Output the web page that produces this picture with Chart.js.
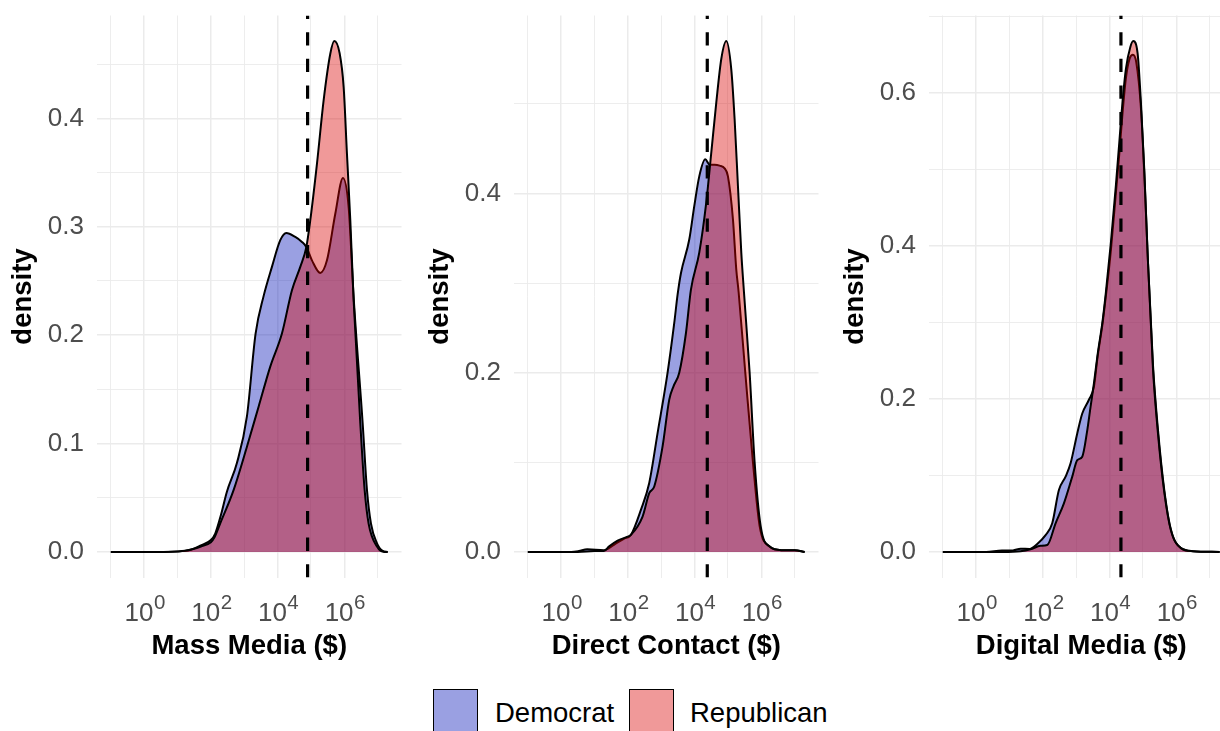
<!DOCTYPE html>
<html>
<head>
<meta charset="utf-8">
<script src="https://cdn.jsdelivr.net/npm/chart.js@4.4.1/dist/chart.umd.min.js"></script>
<style>
  html, body { margin: 0; padding: 0; background: #ffffff; }
  body { width: 1220px; height: 731px; overflow: hidden; position: relative;
         font-family: "Liberation Sans", Arial, sans-serif; }
  .panel { position: absolute; top: 0; width: 410px; height: 670px; }
  .legend { position: absolute; left: 0; top: 689px; width: 1220px; height: 60px; }
  .key { position: absolute; top: 0; width: 43px; height: 44px; border: 1.6px solid #000; }
  .lbl { position: absolute; top: 4px; font-size: 27.5px; line-height: 40px; color: #000; }
</style>
</head>
<body>
<div class="panel" style="left:0px"><canvas id="p1" width="410" height="670"></canvas></div>
<div class="panel" style="left:417px"><canvas id="p2" width="410" height="670"></canvas></div>
<div class="panel" style="left:832px"><canvas id="p3" width="410" height="670"></canvas></div>
<div class="legend">
  <div class="key" style="left:433px; background:rgba(2,18,183,0.4)"></div>
  <div class="lbl" style="left:495px">Democrat</div>
  <div class="key" style="left:629px; background:rgba(218,0,0,0.4)"></div>
  <div class="lbl" style="left:690px">Republican</div>
</div>
<script>
// Spending is on a log10 axis: each x value below is log10(dollars).

// Mass media spending densities
const massDemLog     = [-1.0, 0.0, 1.0, 1.4, 1.7, 2.0, 2.13, 2.3, 2.48, 2.78, 3.08, 3.34, 3.58, 3.83, 4.08, 4.26, 4.53, 4.73, 4.86, 5.03, 5.28, 5.48, 5.73, 5.96, 6.13, 6.28, 6.55, 6.68, 6.8, 6.98, 7.15, 7.3];
const massDemDensity = [0, 0, 0.0005, 0.002, 0.006, 0.011, 0.017, 0.034, 0.0556, 0.082, 0.125, 0.2015, 0.236, 0.263, 0.2876, 0.2943, 0.2906, 0.286, 0.2814, 0.269, 0.2574, 0.269, 0.312, 0.345, 0.318, 0.235, 0.119, 0.057, 0.026, 0.008, 0.001, 0];
const massRepLog     = [-1.0, 0.5, 1.2, 1.5, 1.7, 2.0, 2.1, 2.28, 2.68, 3.08, 3.43, 3.78, 4.13, 4.43, 4.68, 4.86, 4.98, 5.18, 5.38, 5.58, 5.70, 5.86, 5.98, 6.08, 6.18, 6.28, 6.48, 6.61, 6.73, 6.98, 7.2, 7.3];
const massRepDensity = [0, 0, 0.001, 0.003, 0.005, 0.009, 0.013, 0.0264, 0.057, 0.097, 0.134, 0.171, 0.2015, 0.2415, 0.263, 0.281, 0.306, 0.358, 0.4166, 0.4596, 0.4713, 0.46, 0.429, 0.367, 0.306, 0.232, 0.1186, 0.057, 0.026, 0.005, 0, 0];

// Direct contact spending densities
const directDemLog     = [-1.0, 0.3, 0.53, 0.78, 1.28, 1.58, 1.89, 2.09, 2.39, 2.64, 2.89, 3.19, 3.39, 3.49, 3.59, 3.84, 3.99, 4.14, 4.32, 4.45, 4.6, 4.75, 4.9, 5.0, 5.15, 5.25, 5.32, 5.52, 5.75, 5.95, 6.25, 6.6, 7.0, 7.3];
const directDemDensity = [0, 0, 0.001, 0.003, 0.002, 0.008, 0.015, 0.019, 0.047, 0.077, 0.1326, 0.2, 0.2555, 0.287, 0.311, 0.3486, 0.3858, 0.419, 0.438, 0.432, 0.432, 0.431, 0.428, 0.419, 0.371, 0.315, 0.29, 0.2, 0.1, 0.029, 0.006, 0.002, 0.002, 0];
const directRepLog     = [-1.0, 0.5, 1.0, 1.28, 1.43, 1.69, 1.99, 2.09, 2.44, 2.64, 2.79, 3.04, 3.24, 3.37, 3.54, 3.74, 3.89, 4.14, 4.35, 4.5, 4.65, 4.8, 4.95, 5.1, 5.2, 5.3, 5.4, 5.48, 5.65, 5.8, 5.98, 6.25, 6.6, 7.0, 7.3];
const directRepDensity = [0, 0, 0.001, 0.001, 0.006, 0.0127, 0.017, 0.019, 0.0395, 0.0656, 0.073, 0.1177, 0.17, 0.185, 0.2, 0.244, 0.2927, 0.334, 0.39, 0.4455, 0.5013, 0.55, 0.570, 0.5385, 0.4827, 0.408, 0.334, 0.29, 0.2, 0.1, 0.029, 0.006, 0.002, 0.002, 0];

// Digital media spending densities
const digitalDemLog     = [-1.0, 0.3, 0.77, 1.1, 1.33, 1.6, 1.83, 2.08, 2.28, 2.48, 2.68, 2.83, 3.03, 3.18, 3.38, 3.53, 3.64, 3.79, 3.89, 4.04, 4.19, 4.29, 4.39, 4.49, 4.6, 4.7, 4.8, 4.94, 5.04, 5.14, 5.3, 5.45, 5.64, 5.84, 6.14, 6.5, 7.3];
const digitalDemDensity = [0, 0, 0.002, 0.002, 0.0043, 0.004, 0.0105, 0.022, 0.0375, 0.081, 0.0985, 0.116, 0.155, 0.181, 0.199, 0.216, 0.255, 0.299, 0.335, 0.395, 0.47, 0.52, 0.575, 0.62, 0.645, 0.650, 0.64, 0.58, 0.495, 0.39, 0.245, 0.16, 0.081, 0.029, 0.005, 0.001, 0];
const digitalRepLog     = [-1.0, 0.8, 1.33, 1.63, 1.93, 2.13, 2.38, 2.63, 2.88, 3.03, 3.18, 3.33, 3.43, 3.53, 3.64, 3.79, 3.89, 4.04, 4.19, 4.29, 4.39, 4.49, 4.62, 4.71, 4.84, 4.94, 5.04, 5.14, 5.3, 5.45, 5.64, 5.84, 6.14, 6.5, 7.3];
const digitalRepDensity = [0, 0, 0.001, 0.0035, 0.008, 0.009, 0.0375, 0.0636, 0.0985, 0.12, 0.1246, 0.159, 0.19, 0.2205, 0.258, 0.302, 0.34, 0.405, 0.48, 0.535, 0.59, 0.632, 0.66, 0.668, 0.652, 0.587, 0.4995, 0.39, 0.24, 0.155, 0.078, 0.028, 0.005, 0.001, 0];

// Median spending (log10 $) marked by the dashed line in each panel
const medianLog = [4.90, 4.38, 4.34];

const axisTitles = ['Mass Media ($)', 'Direct Contact ($)', 'Digital Media ($)'];
const xGridLog = [-1, 0, 1, 2, 3, 4, 5, 6, 7];
const xLabelLog = [0, 2, 4, 6];
const yGridStep = [0.05, 0.1, 0.1];
const yLabelStep = [0.1, 0.2, 0.2];
const partyNames = ['Democrat', 'Republican'];

const DEM_FILL = 'rgba(2,18,183,0.4)';
const REP_FILL = 'rgba(218,0,0,0.4)';
const GRID = '#EBEBEB';
const TICK_COLOR = '#4D4D4D';
const FONT = '"Liberation Sans", Arial, sans-serif';

const X_MIN = -1.415, X_MAX = 7.715;   // data range -1..7.3 with 5% padding
const CANVAS_H = 670, AREA_TOP = 15.5, AREA_BOTTOM = 577.5;

function pts(xs, ys) { return xs.map((x, i) => ({ x: x, y: ys[i] })); }
function near(v, step) { return Math.abs(v / step - Math.round(v / step)) < 1e-6; }
function noEdgePadding(s) { s.paddingTop = 0; s.paddingBottom = 0; s.paddingLeft = 0; s.paddingRight = 0; }

// Power-of-ten tick labels: "10" with a raised exponent, placed on the x scale
const powerLabels = {
  id: 'powerLabels',
  afterDraw(chart) {
    const xs = chart.scales.x, ctx = chart.ctx;
    const base = chart.chartArea.bottom + 43.2;
    ctx.save();
    ctx.fillStyle = TICK_COLOR;
    ctx.textBaseline = 'alphabetic';
    ctx.textAlign = 'left';
    xLabelLog.forEach(v => {
      const px = xs.getPixelForValue(v);
      const exp = String(v);
      ctx.font = '26px ' + FONT;
      const wBase = ctx.measureText('10').width;
      ctx.font = '20.5px ' + FONT;
      const wExp = ctx.measureText(exp).width;
      const left = px - (wBase + wExp) / 2 + 0.5;
      ctx.font = '26px ' + FONT;
      ctx.fillText('10', left, base);
      ctx.font = '20.5px ' + FONT;
      ctx.fillText(exp, left + wBase + 0.5, base - 11.4);
    });
    ctx.restore();
  }
};

const panelData = [
  { id: 'p1', dem: pts(massDemLog, massDemDensity),       rep: pts(massRepLog, massRepDensity) },
  { id: 'p2', dem: pts(directDemLog, directDemDensity),   rep: pts(directRepLog, directRepDensity) },
  { id: 'p3', dem: pts(digitalDemLog, digitalDemDensity), rep: pts(digitalRepLog, digitalRepDensity) }
];

panelData.forEach((p, i) => {
  const top = Math.max(...p.dem.map(d => d.y), ...p.rep.map(d => d.y));
  const yMin = -0.05 * top, yMax = 1.05 * top;
  const gStep = yGridStep[i], lStep = yLabelStep[i];
  const yTicks = [];
  for (let v = 0; v <= yMax + 1e-9; v += gStep) yTicks.push(Math.round(v * 1000) / 1000);

  new Chart(document.getElementById(p.id), {
    type: 'line',
    data: {
      datasets: [
        { label: partyNames[0], data: p.dem, order: 2, fill: 'origin',
          backgroundColor: DEM_FILL, borderColor: '#000', borderWidth: 2,
          pointRadius: 0, cubicInterpolationMode: 'monotone' },
        { label: partyNames[1], data: p.rep, order: 1, fill: 'origin',
          backgroundColor: REP_FILL, borderColor: '#000', borderWidth: 2,
          pointRadius: 0, cubicInterpolationMode: 'monotone' },
        { label: 'median', data: [{ x: medianLog[i], y: yMin }, { x: medianLog[i], y: yMax }],
          order: 0, fill: false, borderColor: '#000', borderWidth: 3.2,
          borderDash: [13.3, 13.3], borderCapStyle: 'butt', pointRadius: 0 }
      ]
    },
    options: {
      responsive: false,
      animation: false,
      devicePixelRatio: 1,
      layout: { padding: { top: AREA_TOP, right: 8.5, left: 0, bottom: 0 } },
      plugins: { legend: { display: false }, tooltip: { enabled: false } },
      scales: {
        x: {
          type: 'linear', min: X_MIN, max: X_MAX,
          afterBuildTicks: s => { s.ticks = xGridLog.map(v => ({ value: v })); },
          afterFit: s => { s.height = CANVAS_H - AREA_BOTTOM; noEdgePadding(s); },
          border: { display: false },
          grid: { color: GRID, drawTicks: false,
                  lineWidth: c => (xLabelLog.includes(c.tick.value) ? 1.5 : 0.9) },
          ticks: { autoSkip: false, maxRotation: 0, padding: 14,
                   font: { family: FONT, size: 26 }, callback: () => '' },
          title: { display: true, text: axisTitles[i], color: '#000',
                   font: { family: FONT, size: 27.5, weight: 'bold' },
                   padding: { top: 0, bottom: 7 } }
        },
        y: {
          min: yMin, max: yMax,
          afterBuildTicks: s => { s.ticks = yTicks.map(v => ({ value: v })); },
          afterFit: s => { s.width = 97; noEdgePadding(s); },
          border: { display: false },
          grid: { color: GRID, drawTicks: false,
                  lineWidth: c => (near(c.tick.value, lStep) ? 1.5 : 0.9) },
          ticks: {
            autoSkip: false, padding: 13, color: TICK_COLOR,
            font: { family: FONT, size: 26 },
            callback: v => (near(v, lStep) ? v.toFixed(1) : '')
          },
          title: { display: true, text: 'density', color: '#000',
                   font: { family: FONT, size: 27.5, weight: 'bold' },
                   padding: { top: 7, bottom: 0 } }
        }
      }
    },
    plugins: [powerLabels]
  });
});
</script>
</body>
</html>
